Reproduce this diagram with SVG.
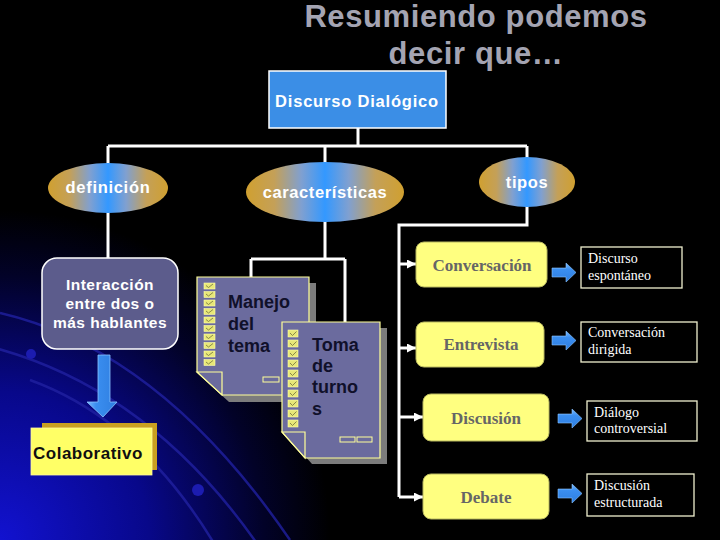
<svg xmlns="http://www.w3.org/2000/svg" width="720" height="540" viewBox="0 0 720 540">
  <defs>
    <radialGradient id="bg" cx="0" cy="540" r="330" gradientUnits="userSpaceOnUse">
      <stop offset="0" stop-color="#1212d0"/>
      <stop offset="0.45" stop-color="#08088a"/>
      <stop offset="0.8" stop-color="#020228"/>
      <stop offset="1" stop-color="#000000"/>
    </radialGradient>
    <linearGradient id="ell" x1="0" y1="0" x2="1" y2="0">
      <stop offset="0" stop-color="#d0a030"/>
      <stop offset="0.18" stop-color="#c4a058"/>
      <stop offset="0.35" stop-color="#80a0d0"/>
      <stop offset="0.5" stop-color="#3398ff"/>
      <stop offset="0.65" stop-color="#80a0d0"/>
      <stop offset="0.82" stop-color="#c4a058"/>
      <stop offset="1" stop-color="#d0a030"/>
    </linearGradient>
    <linearGradient id="blueArr" x1="0" y1="0" x2="0" y2="1">
      <stop offset="0" stop-color="#7cbcff"/>
      <stop offset="0.35" stop-color="#3a8ef0"/>
      <stop offset="1" stop-color="#2f7ee0"/>
    </linearGradient>
    <linearGradient id="blueDown" x1="0" y1="0" x2="1" y2="0">
      <stop offset="0" stop-color="#7cbcff"/>
      <stop offset="0.3" stop-color="#3a8ef0"/>
      <stop offset="1" stop-color="#2f7ee0"/>
    </linearGradient>
    <marker id="ah" viewBox="0 0 10 10" refX="10" refY="5" markerWidth="9" markerHeight="9" markerUnits="userSpaceOnUse" orient="auto">
      <path d="M0,0 L10,5 L0,10 z" fill="#ffffff"/>
    </marker>
    <g id="cb">
      <rect x="0" y="0" width="11" height="6" fill="#e8e878" stroke="#ffffa8" stroke-width="0.6"/>
      <polyline points="2,2.5 4.5,4.5 9,1" fill="none" stroke="#707040" stroke-width="0.8"/>
    </g>
    <g id="cb2">
      <rect x="0" y="0" width="10" height="7" fill="#e8e878" stroke="#ffffa8" stroke-width="0.6"/>
      <polyline points="2,3 4.5,5.5 8.5,1.5" fill="none" stroke="#707040" stroke-width="0.8"/>
    </g>
  </defs>
  <style>
    .ttl { font-family: "Liberation Sans", Arial, sans-serif; font-weight: bold; font-size: 31px; fill: #a4a4b2; letter-spacing: 0.6px; text-anchor: middle; }
    .wb { font-family: "Liberation Sans", Arial, sans-serif; font-weight: bold; fill: #ffffff; text-anchor: middle; }
    .kb { font-family: "Liberation Sans", Arial, sans-serif; font-weight: bold; fill: #10102a; font-size: 18px; }
    .conn { fill: none; stroke: #ffffff; stroke-width: 3; }
    .ellipse { fill: url(#ell); }
    .page { fill: #6b6b9e; stroke: #ffff99; stroke-width: 1.2; }
    .shadow { fill: #7c7c7c; }
    .ybox { fill: #ffff80; stroke: #b8b860; stroke-width: 1; }
    .ytxt { font-family: "Liberation Serif", "Times New Roman", serif; font-weight: bold; font-size: 17px; fill: #666666; text-anchor: middle; }
    .bbox { fill: #000000; stroke: #f0f0d0; stroke-width: 1.3; }
    .btxt { font-family: "Liberation Serif", "Times New Roman", serif; font-size: 14px; fill: #ffffff; }
    .arc { fill: none; stroke: #2020a0; stroke-width: 2.5; opacity: 0.8; }
  </style>

  <!-- background -->
  <rect x="0" y="0" width="720" height="540" fill="#000000"/>
  <rect x="0" y="0" width="720" height="540" fill="url(#bg)"/>
  <g id="background-arcs">
    <path class="arc" d="M0,313 Q160,350 290,540"/>
    <path class="arc" d="M-5,348 Q150,390 258,545"/>
    <path class="arc" d="M30,380 Q140,420 215,545"/>
    <circle cx="31" cy="354" r="5" fill="#1c1cb0"/>
    <circle cx="198" cy="490" r="6" fill="#1c1cb0"/>
  </g>

  <!-- title -->
  <g id="title">
    <text class="ttl" x="476" y="27">Resumiendo podemos</text>
    <text class="ttl" x="476" y="64">decir que…</text>
  </g>

  <!-- connectors -->
  <g id="connectors">
    <path class="conn" d="M358,128 V146"/>
    <path class="conn" d="M108,146 H527"/>
    <path class="conn" d="M108,146 V164"/>
    <path class="conn" d="M325,146 V163"/>
    <path class="conn" d="M527,146 V158"/>
    <path class="conn" d="M108,212 V258"/>
    <path class="conn" d="M325,221 V259 M251,259 H345 M251,259 V277 M345,259 V322"/>
    <path class="conn" d="M527,206 V225 H399 V497"/>
    <path class="conn" d="M399,264 H416" marker-end="url(#ah)"/>
    <path class="conn" d="M399,348 H416" marker-end="url(#ah)"/>
    <path class="conn" d="M399,417 H423" marker-end="url(#ah)"/>
    <path class="conn" d="M399,497 H423" marker-end="url(#ah)"/>
  </g>

  <!-- top node -->
  <g id="discurso-dialogico">
    <rect x="269" y="71" width="177" height="57" fill="#3b8ee6" stroke="#ffffff" stroke-width="1.5"/>
    <text class="wb" x="357" y="107" font-size="16.5" letter-spacing="0.8">Discurso Dialógico</text>
  </g>

  <g id="definicion">
    <ellipse class="ellipse" cx="108" cy="188" rx="60" ry="25"/>
    <text class="wb" x="108" y="193" font-size="16.5" letter-spacing="0.7">definición</text>
  </g>
  <g id="caracteristicas">
    <ellipse class="ellipse" cx="325" cy="192" rx="79" ry="30"/>
    <text class="wb" x="325" y="198" font-size="16.5" letter-spacing="0.6">características</text>
  </g>
  <g id="tipos">
    <ellipse class="ellipse" cx="527" cy="182" rx="48" ry="25"/>
    <text class="wb" x="527" y="188" font-size="16.5" letter-spacing="0.6">tipos</text>
  </g>

  <g id="interaccion">
    <rect x="42" y="258" width="136" height="91" rx="15" ry="15" fill="#5c5c8c" stroke="#ffffff" stroke-width="1.5"/>
    <text class="wb" x="110" y="290" font-size="15.5" letter-spacing="0.5">Interacción</text>
    <text class="wb" x="110" y="309" font-size="15.5" letter-spacing="0.5">entre dos o</text>
    <text class="wb" x="110" y="328" font-size="15.5" letter-spacing="0.5">más hablantes</text>
  </g>

  <g id="flecha-abajo">
    <polygon points="98,355 110,355 110,402 117,402 103,417 87,402 98,402" fill="url(#blueDown)" stroke="#8cc4ff" stroke-width="0.8"/>
  </g>

  <g id="colaborativo">
    <rect x="42" y="423" width="115" height="47" fill="#c9a020"/>
    <rect x="31" y="428" width="121" height="47" fill="#ffff66" stroke="#fff7a0" stroke-width="0.8"/>
    <text x="33" y="459" font-family="Liberation Sans, Arial, sans-serif" font-weight="bold" font-size="17" letter-spacing="0.5" fill="#101010">Colaborativo</text>
  </g>

  <g id="manejo-del-tema">
    <path class="shadow" d="M204,283 H316 V402 H229 L204,379 Z"/>
    <path class="page" d="M197,277 H309 V395 H222 L197,372 Z"/>
    <polygon class="page" points="197,372 222,372 222,395"/>
    <use href="#cb" x="204" y="283"/>
    <use href="#cb" x="204" y="291.5"/>
    <use href="#cb" x="204" y="300"/>
    <use href="#cb" x="204" y="308.5"/>
    <use href="#cb" x="204" y="317"/>
    <use href="#cb" x="204" y="325.5"/>
    <use href="#cb" x="204" y="334"/>
    <use href="#cb" x="204" y="342.5"/>
    <use href="#cb" x="204" y="351"/>
    <use href="#cb" x="204" y="359.5"/>
    <rect x="263" y="377" width="16" height="5" fill="none" stroke="#ffff99" stroke-width="1"/>
    <text class="kb" x="228" y="308">Manejo</text>
    <text class="kb" x="228" y="330">del</text>
    <text class="kb" x="228" y="352">tema</text>
  </g>

  <g id="toma-de-turnos">
    <path class="shadow" d="M289,328 H387 V464 H312 L289,438 Z"/>
    <path class="page" d="M282,322 H380 V458 H305 L282,432 Z"/>
    <polygon class="page" points="282,432 305,432 305,458"/>
    <use href="#cb2" x="288" y="330"/>
    <use href="#cb2" x="288" y="340"/>
    <use href="#cb2" x="288" y="350"/>
    <use href="#cb2" x="288" y="360"/>
    <use href="#cb2" x="288" y="370"/>
    <use href="#cb2" x="288" y="380"/>
    <use href="#cb2" x="288" y="390"/>
    <use href="#cb2" x="288" y="400"/>
    <use href="#cb2" x="288" y="410"/>
    <use href="#cb2" x="288" y="420"/>
    <rect x="340" y="437" width="15" height="5" fill="none" stroke="#ffff99" stroke-width="1"/>
    <rect x="357" y="437" width="15" height="5" fill="none" stroke="#ffff99" stroke-width="1"/>
    <text class="kb" x="312" y="351">Toma</text>
    <text class="kb" x="312" y="372">de</text>
    <text class="kb" x="312" y="393">turno</text>
    <text class="kb" x="312" y="415">s</text>
  </g>

  <!-- tipos -->
  <g id="conversacion">
    <rect class="ybox" x="416" y="242" width="131" height="45" rx="8" ry="8"/>
    <text class="ytxt" x="482" y="271">Conversación</text>
  </g>
  <g id="entrevista">
    <rect class="ybox" x="416" y="322" width="128" height="45" rx="8" ry="8"/>
    <text class="ytxt" x="481" y="350">Entrevista</text>
  </g>
  <g id="discusion">
    <rect class="ybox" x="423" y="394" width="126" height="47" rx="8" ry="8"/>
    <text class="ytxt" x="486" y="424">Discusión</text>
  </g>
  <g id="debate">
    <rect class="ybox" x="423" y="474" width="126" height="45" rx="8" ry="8"/>
    <text class="ytxt" x="486" y="503">Debate</text>
  </g>

  <g id="flechas-derecha">
    <polygon points="552,268 566,268 566,263 576,272.5 566,282 566,277 552,277" fill="url(#blueArr)" stroke="#8cc4ff" stroke-width="0.6"/>
    <polygon points="552,336 566,336 566,331 576,340.5 566,350 566,345 552,345" fill="url(#blueArr)" stroke="#8cc4ff" stroke-width="0.6"/>
    <polygon points="558,414 572,414 572,409 582,418.5 572,428 572,423 558,423" fill="url(#blueArr)" stroke="#8cc4ff" stroke-width="0.6"/>
    <polygon points="558,489 572,489 572,484 582,493.5 572,503 572,498 558,498" fill="url(#blueArr)" stroke="#8cc4ff" stroke-width="0.6"/>
  </g>

  <g id="discurso-espontaneo">
    <rect class="bbox" x="581" y="247" width="101" height="41"/>
    <text class="btxt" x="588" y="263">Discurso</text>
    <text class="btxt" x="588" y="280">espontáneo</text>
  </g>
  <g id="conversacion-dirigida">
    <rect class="bbox" x="581" y="322" width="116" height="40"/>
    <text class="btxt" x="588" y="337">Conversación</text>
    <text class="btxt" x="588" y="354">dirigida</text>
  </g>
  <g id="dialogo-controversial">
    <rect class="bbox" x="587" y="401" width="110" height="40"/>
    <text class="btxt" x="594" y="417">Diálogo</text>
    <text class="btxt" x="594" y="433">controversial</text>
  </g>
  <g id="discusion-estructurada">
    <rect class="bbox" x="587" y="474" width="107" height="42"/>
    <text class="btxt" x="594" y="490">Discusión</text>
    <text class="btxt" x="594" y="507">estructurada</text>
  </g>
</svg>
